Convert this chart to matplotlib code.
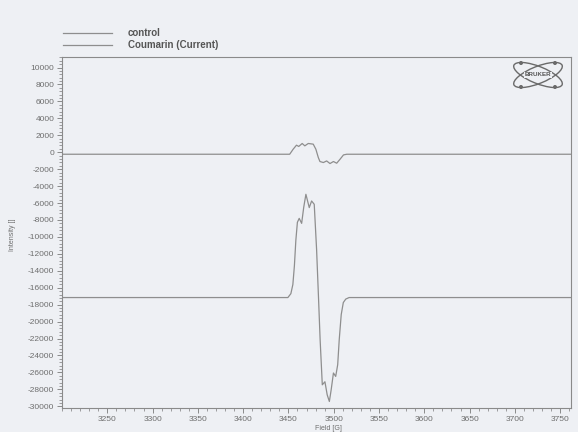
import matplotlib
matplotlib.use("Agg")
import matplotlib.pyplot as plt
from matplotlib.ticker import MultipleLocator, FixedLocator
from matplotlib.patches import Ellipse, Circle

plt.rcParams['font.family'] = ['Liberation Sans', 'DejaVu Sans']
plt.rcParams['axes.unicode_minus'] = False

# ---- data ----
series_names = ["control", "Coumarin (Current)"]

control_field = [3200, 3451.4, 3455.2, 3458.9, 3461.4, 3465.2, 3468.1, 3471.9,
                 3477.4, 3480.3, 3483.0, 3484.8, 3488.6, 3492.2, 3495.9, 3499.7,
                 3503.3, 3507.0, 3510.8, 3514.4, 3762]
control_intensity = [-240, -240, 350, 830, 680, 1030, 750, 1030,
                     950, 350, -630, -1100, -1220, -1030, -1340, -1100,
                     -1300, -830, -320, -240, -240]

coumarin_field = [3200, 3449.4, 3452.7, 3454.9, 3456.6, 3458.2, 3459.9, 3461.9,
                  3464.6, 3466.9, 3469.3, 3473.0, 3475.6, 3478.5, 3481.1, 3483.3,
                  3485.0, 3487.4, 3490.3, 3492.8, 3495.2, 3497.2, 3499.7, 3502.2,
                  3504.4, 3506.1, 3508.3, 3510.6, 3513.3, 3517.0, 3762]
coumarin_intensity = [-17160, -17160, -16700, -15620, -13400, -10400, -8280, -7810,
                      -8400, -6500, -4970, -6540, -5760, -6150, -11480, -17400,
                      -22130, -27460, -27100, -28640, -29430, -28050, -26070, -26470,
                      -25090, -22130, -19170, -17750, -17340, -17160, -17160]

x_ticks = [3250, 3300, 3350, 3400, 3450, 3500, 3550, 3600, 3650, 3700, 3750]
y_ticks = list(range(-30000, 10001, 2000))

# ---- figure ----
W, H = 578, 432
bg = '#eef0f4'
fig = plt.figure(figsize=(W / 100, H / 100), dpi=100, facecolor=bg)

L, R, T, B = 62, 571, 57, 408
ax = fig.add_axes([L / W, 1 - B / H, (R - L) / W, (B - T) / H], facecolor=bg)

line_col = '#8e8e8e'
ax.plot(control_field, control_intensity, color=line_col, lw=0.9)
ax.plot(coumarin_field, coumarin_intensity, color=line_col, lw=0.9)

ax.set_xlim(3200, 3762)
ax.set_ylim(-30200, 11240)

ax.xaxis.set_major_locator(FixedLocator(x_ticks))
ax.xaxis.set_minor_locator(MultipleLocator(10))
ax.yaxis.set_major_locator(FixedLocator(y_ticks))
ax.yaxis.set_minor_locator(MultipleLocator(400))

tick_col = '#7a7a7a'
ax.tick_params(axis='both', which='major', labelsize=6, colors=tick_col,
               length=3.5, width=0.6, labelcolor='#6e6e6e', pad=2)
ax.tick_params(axis='both', which='minor', colors=tick_col, length=2, width=0.5)
ax.tick_params(axis='x', pad=2)

for s in ax.spines.values():
    s.set_color('#8a8a8a')
    s.set_linewidth(0.8)

ax.set_ylabel('Intensity []', fontsize=5, color='#6e6e6e', labelpad=6)
ax.yaxis.set_label_coords(-46 / (R - L), 1 - (235 - T) / (B - T))
ax.set_xlabel('Field [G]', fontsize=5, color='#6e6e6e')
ax.xaxis.set_label_coords(1 - (R - 328) / (R - L), -(428 - B) / (B - T))
ax.xaxis.label.set_va('center')

# ---- legend (outside, above the frame) ----
for i, name in enumerate(series_names):
    yy = 1 - (33 + 12 * i) / H
    fig.add_artist(plt.Line2D([63 / W, 112 / W], [yy, yy], color=line_col, lw=0.9))
    fig.text(128 / W, yy, name, fontsize=7, fontweight='bold', color='#555555',
             va='center', ha='left')

# ---- Bruker logo ----
lx, ly, lw_, lh = 509, 58, 58, 34
lax = fig.add_axes([lx / W, 1 - (ly + lh) / H, lw_ / W, lh / H])
lax.set_xlim(0, lw_)
lax.set_ylim(0, lh)
lax.axis('off')
cx, cy = lw_ / 2, lh / 2
for ang in (22, -22):
    lax.add_patch(Ellipse((cx, cy), 52, 17, angle=ang, fill=False,
                          ec='#6a6a6a', lw=1.0))
for px, py in ((12, 29), (12, 5), (46, 29), (46, 5)):
    lax.add_patch(Circle((px, py), 1.3, color='#6a6a6a'))
lax.text(cx, cy, 'BRUKER', fontsize=4.5, ha='center', va='center',
         color='#555555', fontweight='bold',
         bbox=dict(fc=bg, ec='none', pad=0.5))

fig.savefig('out.png', dpi=100, facecolor=bg)
